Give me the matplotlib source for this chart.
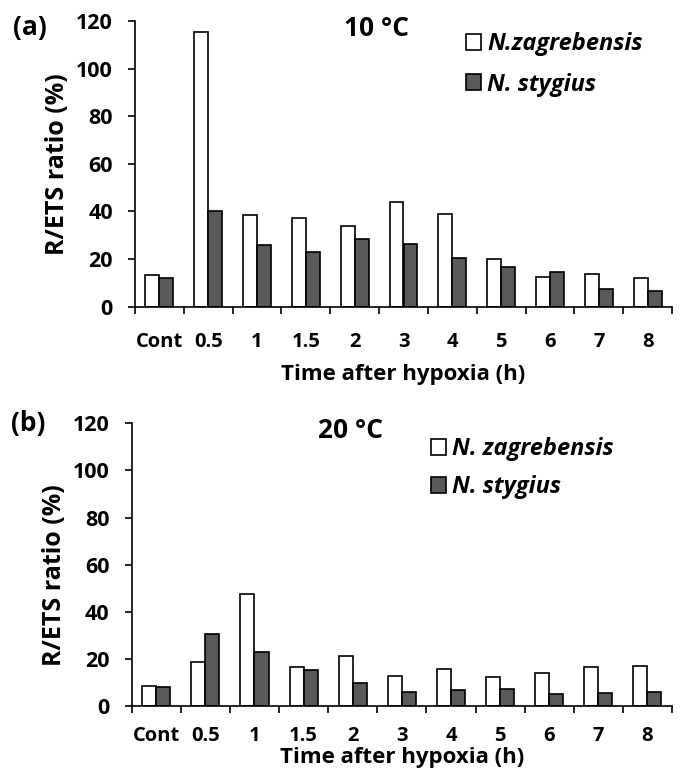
"""R/ETS ratio after hypoxia for two Niphargus species at 10 and 20 °C."""

import matplotlib

matplotlib.use("Agg")
import matplotlib.pyplot as plt
import numpy as np

# data
CATEGORIES = ["Cont", "0.5", "1", "1.5", "2", "3", "4", "5", "6", "7", "8"]

ZAG_10 = [13.3, 115.2, 38.5, 37.1, 34.0, 44.0, 38.8, 19.9, 12.5, 13.9, 11.9]
STY_10 = [11.9, 40.3, 25.9, 23.0, 28.3, 26.2, 20.3, 16.8, 14.4, 7.6, 6.6]

ZAG_20 = [8.5, 18.5, 47.4, 16.4, 21.3, 12.8, 15.8, 12.3, 13.8, 16.7, 16.9]
STY_20 = [8.2, 30.4, 23.0, 15.1, 9.6, 5.8, 6.6, 7.1, 5.2, 5.5, 5.8]

W, H = 681, 769
FONT = "Open Sans"
DARK = "#595959"
BAR_W = 1 / 3.5

plt.rcParams["font.family"] = FONT
plt.rcParams["font.weight"] = "bold"
plt.rcParams["axes.labelweight"] = "bold"


def px_axes(fig, left, right, top, bottom):
    return fig.add_axes([left / W, 1 - bottom / H, (right - left) / W, (bottom - top) / H])


def panel(fig, box, zag, sty, zag_label, sty_label, title, title_xy, tag, tag_xy,
          leg_xy, leg_space, xtick_pad, xlabel_y, ylabel_xy):
    ax = px_axes(fig, *box)
    x = np.arange(len(CATEGORIES))
    b1 = ax.bar(x - BAR_W / 2, zag, BAR_W, color="white", edgecolor="black",
                linewidth=1.2, label=zag_label)
    b2 = ax.bar(x + BAR_W / 2, sty, BAR_W, color=DARK, edgecolor="black",
                linewidth=1.2, label=sty_label)

    ax.set_xlim(-0.5, len(CATEGORIES) - 0.5)
    ax.set_ylim(0, 120)
    ax.set_yticks(range(0, 121, 20))
    ax.set_xticks(np.arange(-0.5, len(CATEGORIES)), labels=[])
    ax.set_xticks(x, labels=CATEGORIES, minor=True, fontweight="bold")
    ax.tick_params(axis="x", which="major", direction="out", length=5, width=1.2)
    ax.tick_params(axis="x", which="minor", length=0, pad=xtick_pad, labelsize=14.5)
    ax.tick_params(axis="y", direction="out", length=5, width=1.2, labelsize=15.5, pad=11)
    for lab in ax.get_yticklabels():
        lab.set_fontweight("bold")
    for s in ("top", "right"):
        ax.spines[s].set_visible(False)
    for s in ("left", "bottom"):
        ax.spines[s].set_linewidth(1.2)

    ax.set_xlabel("Time after hypoxia (h)", fontsize=16, fontweight="bold", va="center")
    ax.xaxis.set_label_coords(0.5, xlabel_y)
    ax.set_ylabel("R/ETS ratio (%)", fontsize=18, fontweight="bold", va="center")
    ax.yaxis.set_label_coords(*ylabel_xy)

    fig.text(title_xy[0] / W, 1 - title_xy[1] / H, title, fontsize=19,
             fontweight="bold", ha="center", va="center")
    fig.text(tag_xy[0] / W, 1 - tag_xy[1] / H, tag, fontsize=19,
             fontweight="bold", ha="left", va="center")

    ax.legend(handles=[b1, b2], loc="upper left",
              bbox_to_anchor=(leg_xy[0] / W, 1 - leg_xy[1] / H),
              bbox_transform=fig.transFigure, frameon=False, borderpad=0,
              borderaxespad=0, handlelength=0.64, handleheight=0.64,
              handletextpad=0.25, labelspacing=leg_space,
              prop={"family": FONT, "weight": "bold", "style": "italic", "size": 17})
    return ax


fig = plt.figure(figsize=(W / 100, H / 100), dpi=100)

panel(fig, (135, 672, 21, 306.7), ZAG_10, STY_10, "N.zagrebensis", "N. stygius",
      "10 °C", (377, 29), "(a)", (13, 27), (466, 32), 0.7, 18, -0.239, (-0.1434, 0.5))
panel(fig, (131.7, 672, 423.3, 706), ZAG_20, STY_20, "N. zagrebensis", "N. stygius",
      "20 °C", (350, 431), "(b)", (11, 423), (431, 437), 0.6, 14.5, -0.182, (-0.142, 0.463))

fig.savefig("out.png", dpi=100)
